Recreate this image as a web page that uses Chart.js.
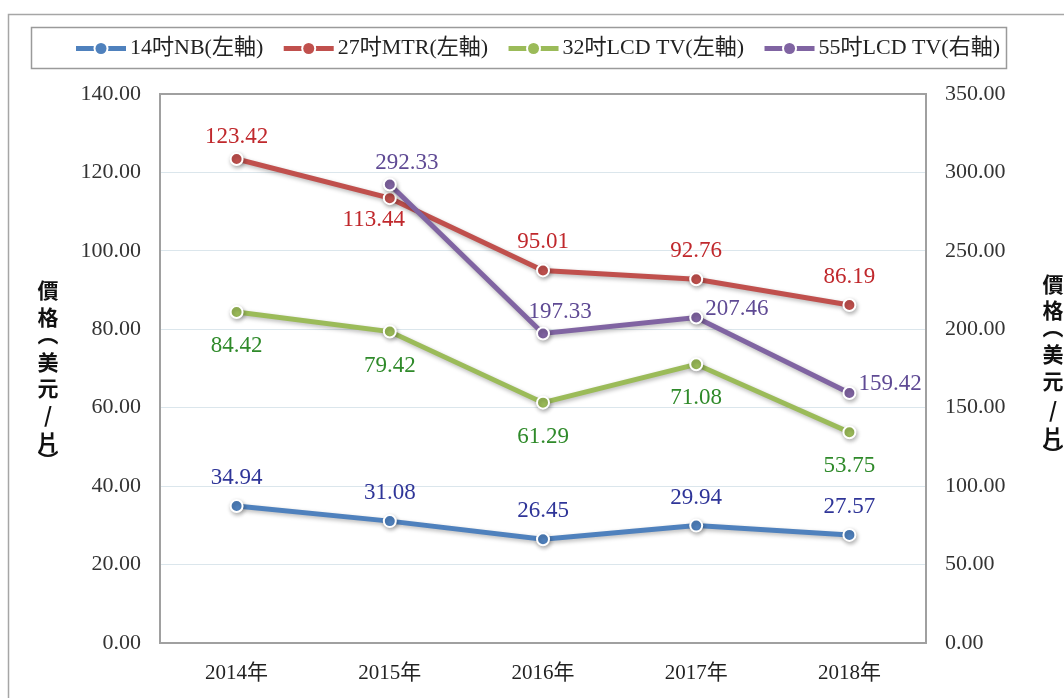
<!DOCTYPE html>
<html>
<head>
<meta charset="utf-8">
<script src="https://cdn.jsdelivr.net/npm/chart.js@4/dist/chart.umd.min.js"></script>
<style>
  html, body { margin: 0; padding: 0; background: #ffffff; }
  #wrap { position: relative; width: 1064px; height: 698px; }
</style>
</head>
<body>
<div id="wrap"><canvas id="c" width="1064" height="698"></canvas></div>
<script>
// ---- data ----
const categories = ['2014年', '2015年', '2016年', '2017年', '2018年'];
const seriesNames = ['14吋NB(左軸)', '27吋MTR(左軸)', '32吋LCD TV(左軸)', '55吋LCD TV(右軸)'];
const nb14 = [34.94, 31.08, 26.45, 29.94, 27.57];
const mtr27 = [123.42, 113.44, 95.01, 92.76, 86.19];
const lcd32 = [84.42, 79.42, 61.29, 71.08, 53.75];
const lcd55 = [null, 292.33, 197.33, 207.46, 159.42];
const axisTitle = ['價', '格', '︵', '美', '元', '/', '片', '︶'];

// ---- styles ----
const lineColors = ['#4f81bd', '#c0504d', '#9bbb59', '#8064a2'];
const labelColors = ['#2f3598', '#c0282c', '#2f8a2a', '#5f4a94'];
const labelPlacement = [
  ['above', 'above', 'above', 'above', 'above'],
  ['aboveNear', 'belowLeft', 'above', 'above', 'above'],
  ['below', 'below', 'below', 'below', 'below'],
  [null, 'aboveRight', 'aboveRight', 'right', 'right']
];
const SERIF = '"Liberation Serif", "Times New Roman", "Noto Sans CJK TC", serif';

function mkDataset(i, data, axis, order) {
  return {
    label: seriesNames[i],
    data: data,
    yAxisID: axis,
    borderColor: lineColors[i],
    backgroundColor: lineColors[i],
    borderWidth: 5,
    pointRadius: 6,
    pointHoverRadius: 6,
    pointBorderColor: '#ffffff',
    pointBorderWidth: 2,
    pointBackgroundColor: lineColors[i],
    tension: 0,
    spanGaps: false,
    order: order
  };
}

const framePlugin = {
  id: 'frame',
  beforeDraw(chart) {
    const ctx = chart.ctx;
    ctx.save();
    ctx.fillStyle = '#ffffff';
    ctx.fillRect(0, 0, chart.width, chart.height);
    ctx.strokeStyle = '#a6a6a6';
    ctx.lineWidth = 1.5;
    ctx.strokeRect(8.5, 14.5, 1100, 800);
    ctx.restore();
  },
  beforeDatasetsDraw(chart) {
    const ctx = chart.ctx;
    const a = chart.chartArea;
    ctx.save();
    ctx.strokeStyle = '#a0a0a0';
    ctx.lineWidth = 2;
    ctx.strokeRect(a.left, a.top, a.right - a.left, a.bottom - a.top);
    ctx.restore();
    ctx.save();
    ctx.shadowColor = 'rgba(0,0,0,0.28)';
    ctx.shadowBlur = 4;
    ctx.shadowOffsetX = 1;
    ctx.shadowOffsetY = 2;
  },
  afterDatasetsDraw(chart) {
    const ctx = chart.ctx;
    ctx.restore();
    // data labels
    ctx.save();
    ctx.font = '23px ' + SERIF;
    ctx.textBaseline = 'middle';
    chart.data.datasets.forEach((ds, di) => {
      const meta = chart.getDatasetMeta(di);
      meta.data.forEach((pt, i) => {
        const v = ds.data[i];
        if (v === null || v === undefined) return;
        const pos = labelPlacement[di][i];
        let x = pt.x, y = pt.y, align = 'center';
        if (pos === 'above') { y -= 28; }
        else if (pos === 'aboveNear') { y -= 22; }
        else if (pos === 'below') { y += 34; }
        else if (pos === 'belowLeft') { x -= 16; y += 22; }
        else if (pos === 'aboveRight') { x += 17; y -= 22; }
        else if (pos === 'right') { x += 9; y -= 9; align = 'left'; }
        ctx.fillStyle = labelColors[di];
        ctx.textAlign = align;
        ctx.fillText(v.toFixed(2), x, y);
      });
    });
    ctx.restore();
  },
  afterDraw(chart) {
    const ctx = chart.ctx;
    // legend
    ctx.save();
    ctx.strokeStyle = '#9a9a9a';
    ctx.lineWidth = 1.5;
    const bx = 31, by = 27, bw = 975, bh = 41;
    ctx.strokeRect(bx + 0.5, by + 0.5, bw, bh);
    ctx.font = '22px ' + SERIF;
    ctx.textBaseline = 'middle';
    ctx.textAlign = 'left';
    const symW = 52, gapT = 3;
    const startX = 75, endX = 1000;
    const widths = seriesNames.map(n => ctx.measureText(n).width);
    let used = 0;
    widths.forEach(w => used += symW + gapT + w);
    const gapI = Math.max(6, (endX - startX - used) / (seriesNames.length - 1));
    let x = startX;
    const cy = by + bh / 2 + 1;
    seriesNames.forEach((n, i) => {
      ctx.strokeStyle = lineColors[i];
      ctx.lineWidth = 5;
      ctx.beginPath();
      ctx.moveTo(x + 1, cy);
      ctx.lineTo(x + symW - 1, cy);
      ctx.stroke();
      ctx.beginPath();
      ctx.fillStyle = '#ffffff';
      ctx.arc(x + symW / 2, cy, 7.5, 0, Math.PI * 2);
      ctx.fill();
      ctx.beginPath();
      ctx.fillStyle = lineColors[i];
      ctx.arc(x + symW / 2, cy, 5.5, 0, Math.PI * 2);
      ctx.fill();
      ctx.fillStyle = '#222222';
      ctx.fillText(n, x + symW + gapT, cy);
      x += symW + gapT + widths[i] + gapI;
    });
    ctx.restore();
    // vertical axis titles
    ctx.save();
    ctx.fillStyle = '#111111';
    ctx.font = 'bold 21px "Noto Sans CJK TC", sans-serif';
    ctx.textAlign = 'center';
    ctx.textBaseline = 'middle';
    const stepsL = [290, 317, 334, 362, 388, 415, 442, 460];
    const stepsR = [284, 310, 327, 354, 381, 410, 437, 454];
    axisTitle.forEach((ch, i) => {
      ctx.fillText(ch, 48, stepsL[i]);
      ctx.fillText(ch, 1053, stepsR[i]);
    });
    ctx.restore();
  }
};

new Chart(document.getElementById('c'), {
  type: 'line',
  data: {
    labels: categories,
    datasets: [
      mkDataset(0, nb14, 'yL', 1),
      mkDataset(1, mtr27, 'yL', 1),
      mkDataset(2, lcd32, 'yL', 1),
      mkDataset(3, lcd55, 'yR', 0)
    ]
  },
  options: {
    responsive: false,
    animation: false,
    events: [],
    layout: { padding: { top: 94, left: 0, right: 0, bottom: 0 } },
    plugins: { legend: { display: false }, tooltip: { enabled: false } },
    scales: {
      x: {
        offset: true,
        grid: { display: false, drawTicks: false },
        border: { display: false },
        ticks: { color: '#222222', font: { family: SERIF, size: 21 }, padding: 18, maxRotation: 0 },
        afterFit(s) { s.height = 55; }
      },
      yL: {
        position: 'left',
        min: 0, max: 140,
        ticks: { stepSize: 20, color: '#333333', font: { family: SERIF, size: 22 }, padding: 19,
                 callback: v => Number(v).toFixed(2) },
        grid: { color: '#dbe6ec', lineWidth: 1, drawTicks: false },
        border: { display: false },
        afterFit(s) { s.width = 160; }
      },
      yR: {
        position: 'right',
        min: 0, max: 350,
        ticks: { stepSize: 50, color: '#333333', font: { family: SERIF, size: 22 }, padding: 19,
                 callback: v => Number(v).toFixed(2) },
        grid: { display: false, drawTicks: false },
        border: { display: false },
        afterFit(s) { s.width = 138; }
      }
    }
  },
  plugins: [framePlugin]
});
</script>
</body>
</html>
